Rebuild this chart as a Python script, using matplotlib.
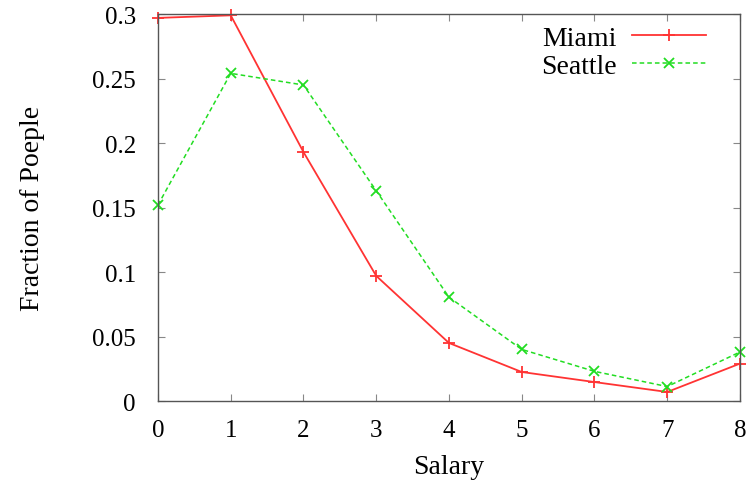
import matplotlib
matplotlib.use("Agg")
import matplotlib.pyplot as plt

# 数据
salary = [0, 1, 2, 3, 4, 5, 6, 7, 8]
miami = [0.297, 0.299, 0.193, 0.097, 0.045, 0.0225, 0.0147, 0.007, 0.029]
seattle = [0.152, 0.254, 0.245, 0.163, 0.0805, 0.040, 0.023, 0.0112, 0.038]

xticks = [0, 1, 2, 3, 4, 5, 6, 7, 8]
yticks = [0, 0.05, 0.1, 0.15, 0.2, 0.25, 0.3]
ytick_labels = ['0', '0.05', '0.1', '0.15', '0.2', '0.25', '0.3']

plt.rcParams['font.family'] = ['Liberation Serif', 'DejaVu Serif']

fig = plt.figure(figsize=(7.53, 4.85), dpi=100)
ax = fig.add_axes([0.2098, 0.1711, 0.7729, 0.7979])

ax.plot(salary, miami, '-', color='#ff3333', marker='+', markersize=8,
        markeredgewidth=1.3, linewidth=1.3, label='Miami', clip_on=False)
ax.plot(salary, seattle, '--', color='#22dd22', marker='x', markersize=7,
        markeredgewidth=1.3, linewidth=1.1, dashes=(3, 2), label='Seattle',
        clip_on=False)

ax.set_xlim(0, 8)
ax.set_ylim(0, 0.3)
ax.set_xticks(xticks)
ax.set_yticks(yticks)
ax.set_yticklabels(ytick_labels)

ax.tick_params(direction='in', length=5, width=0.8, color='#888888',
               top=True, right=True, labelsize=18)
ax.tick_params(axis='y', pad=16)
ax.tick_params(axis='x', pad=13)
for s in ax.spines.values():
    s.set_color('#555555')
    s.set_linewidth(1.0)

ax.set_xlabel('Salary', fontsize=20, labelpad=9)
ax.set_ylabel('Fraction of Poeple', fontsize=20, labelpad=34)

leg = ax.legend(loc='upper right', frameon=False, markerfirst=False,
                fontsize=20, handlelength=2.65, handletextpad=0.55,
                labelspacing=0.1, borderaxespad=0.0,
                bbox_to_anchor=(0.96, 1.0))

fig.savefig('out.png', dpi=100)
